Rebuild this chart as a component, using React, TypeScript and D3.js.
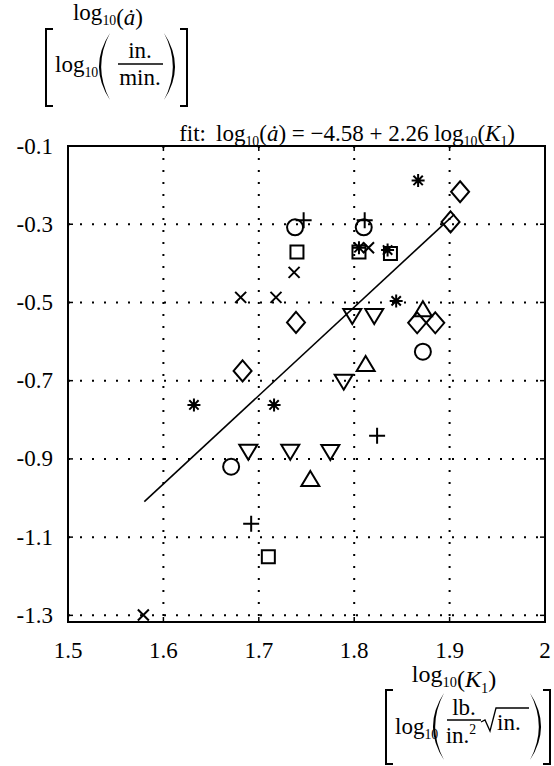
import React from "react";
import * as d3 from "d3";

// Crack growth rate vs. stress intensity, grouped by marker style
const circlePts: [number, number][] = [
  [1.738, -0.308], [1.81, -0.308], [1.872, -0.626], [1.671, -0.92],
];
const plusPts: [number, number][] = [
  [1.747, -0.29], [1.811, -0.29], [1.824, -0.841], [1.692, -1.066],
];
const squarePts: [number, number][] = [
  [1.74, -0.371], [1.805, -0.371], [1.838, -0.375], [1.71, -1.15],
];
const timesPts: [number, number][] = [
  [1.737, -0.423], [1.681, -0.487], [1.718, -0.487], [1.815, -0.36], [1.579, -1.299],
];
const diamondPts: [number, number][] = [
  [1.739, -0.551], [1.683, -0.675], [1.911, -0.217], [1.901, -0.294], [1.866, -0.552], [1.885, -0.552],
];
const asteriskPts: [number, number][] = [
  [1.867, -0.188], [1.805, -0.36], [1.835, -0.366], [1.844, -0.496], [1.632, -0.762], [1.716, -0.762],
];
const triUpPts: [number, number][] = [
  [1.872, -0.52], [1.812, -0.66], [1.754, -0.954],
];
const triDownPts: [number, number][] = [
  [1.798, -0.532], [1.821, -0.532], [1.789, -0.7], [1.689, -0.879], [1.733, -0.879], [1.775, -0.88],
];

const xTicks = [1.5, 1.6, 1.7, 1.8, 1.9, 2.0];
const xTickLabels = ["1.5", "1.6", "1.7", "1.8", "1.9", "2"];
const yTicks = [-0.1, -0.3, -0.5, -0.7, -0.9, -1.1, -1.3];
const yTickLabels = ["-0.1", "-0.3", "-0.5", "-0.7", "-0.9", "-1.1", "-1.3"];

const fitIntercept = -4.58;
const fitSlope = 2.26;
const fitRange = [1.58, 1.905];

const FONT = "'Liberation Serif', 'Times New Roman', serif";

const L = 68, R = 545, T = 146, B = 622;

const x = d3.scaleLinear().domain([1.5, 2.0]).range([L, R]);
const y = d3.scaleLinear().domain([-0.1, -1.317]).range([T, B]);

// marker path builders (centered at 0,0)
const circlePath = (r: number) => {
  const p = d3.path();
  p.arc(0, 0, r, 0, Math.PI * 2);
  p.closePath();
  return p.toString();
};
const squarePath = (s: number) => `M${-s / 2},${-s / 2}H${s / 2}V${s / 2}H${-s / 2}Z`;
const diamondPath = (w: number, h: number) => `M0,${-h}L${w},0L0,${h}L${-w},0Z`;
const triUpPath = (w: number, h: number) => `M0,${-h * 0.6}L${w / 2},${h * 0.4}L${-w / 2},${h * 0.4}Z`;
const triDownPath = (w: number, h: number) => `M0,${h * 0.6}L${w / 2},${-h * 0.4}L${-w / 2},${-h * 0.4}Z`;
const plusPath = (a: number) => `M${-a},0H${a}M0,${-a}V${a}`;
const timesPath = (a: number) => `M${-a},${-a}L${a},${a}M${-a},${a}L${a},${-a}`;
const asteriskPath = (a: number) => {
  const d = a * 0.72;
  return `M${-a},0H${a}M0,${-a}V${a}M${-d},${-d}L${d},${d}M${-d},${d}L${d},${-d}`;
};

// curved parenthesis drawn as a filled crescent
const paren = (xe: number, xa: number, top: number, bot: number, thick: number) => {
  const mid = (top + bot) / 2;
  const cOuter = 2 * xa - xe;
  const cInner = 2 * (xa + (xa < xe ? thick : -thick)) - xe;
  return `M${xe},${top}Q${cOuter},${mid} ${xe},${bot}Q${cInner},${mid} ${xe},${top}Z`;
};
const bracketL = (x0: number, top: number, bot: number, w: number) =>
  `M${x0 + w},${top}H${x0}V${bot}H${x0 + w}`;
const bracketR = (x0: number, top: number, bot: number, w: number) =>
  `M${x0 - w},${top}H${x0}V${bot}H${x0 - w}`;

const Log10 = ({ size }: { size: number }) => (
  <>
    <tspan>log</tspan>
    <tspan fontSize={size * 0.6} dy={size * 0.22}>10</tspan>
    <tspan dy={-size * 0.22}></tspan>
  </>
);

export default function App() {
  const fs = 23;
  const tfs = 23;
  const markers: { pts: [number, number][]; d: string }[] = [
    { pts: circlePts, d: circlePath(8) },
    { pts: plusPts, d: plusPath(8) },
    { pts: squarePts, d: squarePath(13) },
    { pts: timesPts, d: timesPath(5.5) },
    { pts: diamondPts, d: diamondPath(9, 10.5) },
    { pts: asteriskPts, d: asteriskPath(6.5) },
    { pts: triUpPts, d: triUpPath(18, 15) },
    { pts: triDownPts, d: triDownPath(18, 15) },
  ];

  return (
    <svg width={554} height={766} style={{ position: "absolute", left: 0, top: 0, background: "#fff" }}
      fontFamily={FONT}>
      <rect x={0} y={0} width={554} height={766} fill="#fff" />

      {/* grid */}
      <g stroke="#000" strokeWidth={2} strokeDasharray="2 10" fill="none">
        {xTicks.slice(1, -1).map((t) => (
          <line key={"gx" + t} x1={x(t)} x2={x(t)} y1={T} y2={B} />
        ))}
        {yTicks.slice(1).map((t) => (
          <line key={"gy" + t} x1={L} x2={R} y1={y(t)} y2={y(t)} />
        ))}
      </g>

      {/* ticks */}
      <g stroke="#000" strokeWidth={1.5}>
        {xTicks.map((t) => (
          <g key={"tx" + t}>
            <line x1={x(t)} x2={x(t)} y1={B} y2={B - 5} />
            <line x1={x(t)} x2={x(t)} y1={T} y2={T + 5} />
          </g>
        ))}
        {yTicks.map((t) => (
          <g key={"ty" + t}>
            <line x1={L} x2={L + 5} y1={y(t)} y2={y(t)} />
            <line x1={R} x2={R - 5} y1={y(t)} y2={y(t)} />
          </g>
        ))}
      </g>

      <rect x={L} y={T} width={R - L} height={B - T} fill="none" stroke="#000" strokeWidth={2} />

      {/* fit line */}
      <line x1={x(fitRange[0])} y1={y(fitIntercept + fitSlope * fitRange[0])}
        x2={x(fitRange[1])} y2={y(fitIntercept + fitSlope * fitRange[1])}
        stroke="#000" strokeWidth={1.6} />

      {/* markers */}
      <g fill="none" stroke="#000" strokeWidth={2}>
        {markers.map((m, i) =>
          m.pts.map((p, j) => (
            <path key={i + "-" + j} d={m.d} transform={`translate(${x(p[0])},${y(p[1])})`} />
          ))
        )}
      </g>

      {/* tick labels */}
      <g fontSize={tfs} fill="#000">
        {yTicks.map((t, i) => (
          <text key={"ly" + t} x={53} y={y(t) + 7.5} textAnchor="end">{yTickLabels[i]}</text>
        ))}
        {xTicks.map((t, i) => (
          <text key={"lx" + t} x={x(t)} y={658} textAnchor="middle">{xTickLabels[i]}</text>
        ))}
      </g>

      {/* y axis title */}
      <g fontSize={fs} fill="#000">
        <text x={108} y={20} textAnchor="middle">
          <Log10 size={fs} />
          <tspan>(</tspan><tspan fontStyle="italic">ȧ</tspan><tspan>)</tspan>
        </text>
        <path d={bracketL(46, 29, 106, 7)} stroke="#000" strokeWidth={2} fill="none" />
        <text x={55} y={72}><Log10 size={fs} /></text>
        <path d={paren(110, 99, 33, 100, 2.2)} fill="#000" />
        <text x={140} y={58} textAnchor="middle">in.</text>
        <line x1={118} x2={163} y1={64} y2={64} stroke="#000" strokeWidth={1.3} />
        <text x={140} y={85} textAnchor="middle">min.</text>
        <path d={paren(164, 175, 33, 100, 2.2)} fill="#000" />
        <path d={bracketR(187, 29, 106, 7)} stroke="#000" strokeWidth={2} fill="none" />
      </g>

      {/* fit equation */}
      <text x={515} y={141} fontSize={fs} fill="#000" textAnchor="end">
        <tspan>fit:</tspan>
        <tspan dx={10}>log</tspan>
        <tspan fontSize={fs * 0.6} dy={fs * 0.22}>10</tspan>
        <tspan dy={-fs * 0.22}>(</tspan><tspan fontStyle="italic">ȧ</tspan><tspan>)</tspan>
        <tspan> = −4.58 + 2.26 log</tspan>
        <tspan fontSize={fs * 0.6} dy={fs * 0.22}>10</tspan>
        <tspan dy={-fs * 0.22}>(</tspan><tspan fontStyle="italic">K</tspan>
        <tspan fontSize={fs * 0.6} dy={fs * 0.22}>1</tspan>
        <tspan dy={-fs * 0.22}>)</tspan>
      </text>

      {/* x axis title */}
      <g fontSize={24} fill="#000">
        <text x={454} y={682} textAnchor="middle">
          <Log10 size={24} />
          <tspan>(</tspan><tspan fontStyle="italic">K</tspan>
          <tspan fontSize={24 * 0.6} dy={24 * 0.22}>1</tspan>
          <tspan dy={-24 * 0.22}>)</tspan>
        </text>
      </g>
      <g fontSize={fs} fill="#000">
        <path d={bracketL(386, 690, 764, 7)} stroke="#000" strokeWidth={2} fill="none" />
        <text x={395} y={734}><Log10 size={fs} /></text>
        <path d={paren(444, 433, 693, 760, 2.2)} fill="#000" />
        <text x={464} y={715} textAnchor="middle">lb.</text>
        <line x1={447} x2={481} y1={720} y2={720} stroke="#000" strokeWidth={1.3} />
        <text x={461} y={743} textAnchor="middle">in.<tspan fontSize={fs * 0.6} dy={-9}>2</tspan></text>
        <path d="M481,722 L485,720 L490,731 L496,708 H529" stroke="#000" strokeWidth={1.3} fill="none" />
        <text x={497} y={730}>in.</text>
        <path d={paren(530, 541, 693, 760, 2.2)} fill="#000" />
        <path d={bracketR(550, 690, 764, 7)} stroke="#000" strokeWidth={2} fill="none" />
      </g>
    </svg>
  );
}
